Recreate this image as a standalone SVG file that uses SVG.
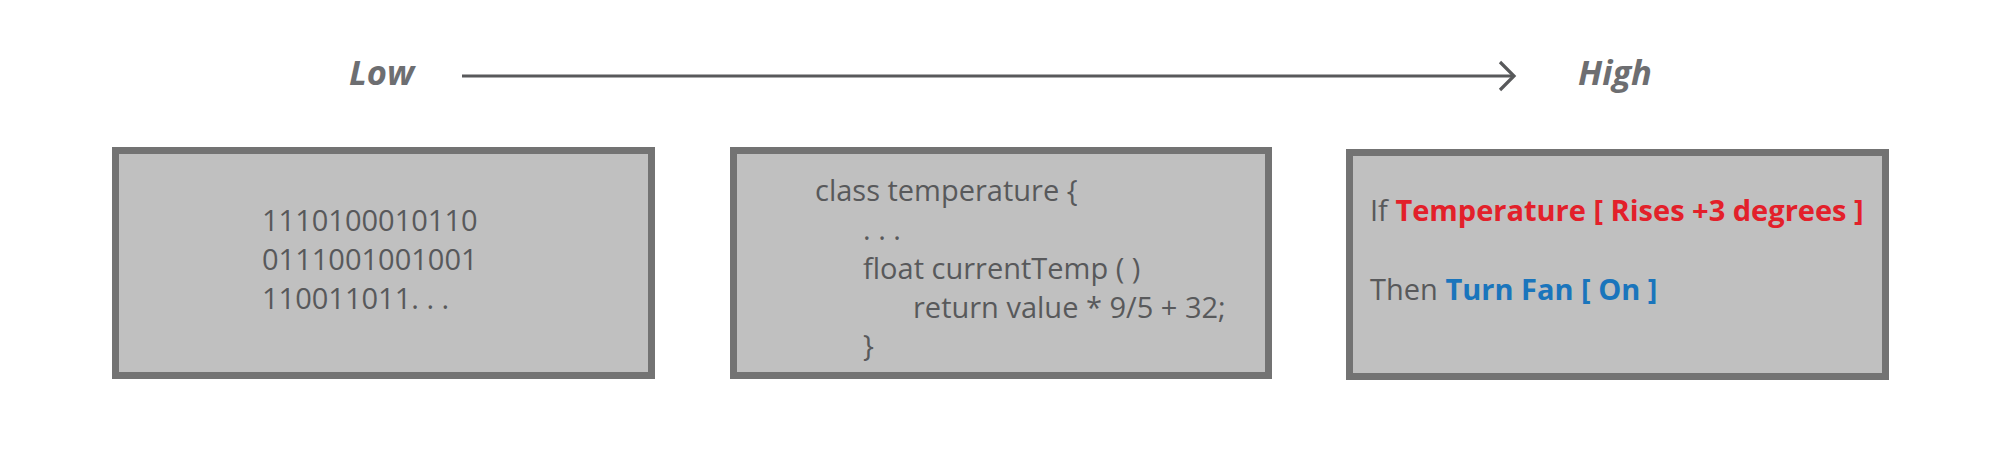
<svg xmlns="http://www.w3.org/2000/svg" width="2000" height="475" viewBox="0 0 2000 475">
<style>
.box{fill:#c0c0c0;stroke:#737373;stroke-width:7}
.t{font-family:"Open Sans","Liberation Sans",sans-serif;font-size:29px;fill:#58595b}
.lbl{font-family:"Open Sans","Liberation Sans",sans-serif;font-size:34.5px;font-weight:bold;font-style:italic;fill:#6d6e71}
.b{font-weight:bold}
.red{fill:#e3202a}
.blue{fill:#1a75bc}
.conn{stroke:#58595b;stroke-width:3.2;fill:none}
</style>
<rect width="2000" height="475" fill="#ffffff"/>
<g id="scale">
<text class="lbl" x="349" y="85">Low</text>
<text class="lbl" x="1578" y="85">High</text>
</g>
<g id="connectors">
<line class="conn" x1="462" y1="76" x2="1514" y2="76"/>
<polyline class="conn" points="1500,62 1514,76 1500,90"/>
</g>
<g id="machine-code">
<rect class="box" x="115.5" y="150.5" width="536" height="225"/>
<text class="t" x="262" y="231">1110100010110</text>
<text class="t" x="262" y="270">0111001001001</text>
<text class="t" x="262" y="309">110011011. . .</text>
</g>
<g id="program-code">
<rect class="box" x="733.5" y="150.5" width="535" height="225"/>
<text class="t" x="815" y="201">class temperature {</text>
<text class="t" x="863" y="240">. . .</text>
<text class="t" x="863" y="279">float currentTemp ( )</text>
<text class="t" x="913" y="318">return value * 9/5 + 32;</text>
<text class="t" x="863" y="356">}</text>
</g>
<g id="rule">
<rect class="box" x="1349.5" y="152.5" width="536" height="224"/>
<text class="t" x="1370" y="221">If <tspan class="b red">Temperature [ Rises +3 degrees ]</tspan></text>
<text class="t" x="1370" y="300">Then <tspan class="b blue">Turn Fan [ On ]</tspan></text>
</g>
</svg>
